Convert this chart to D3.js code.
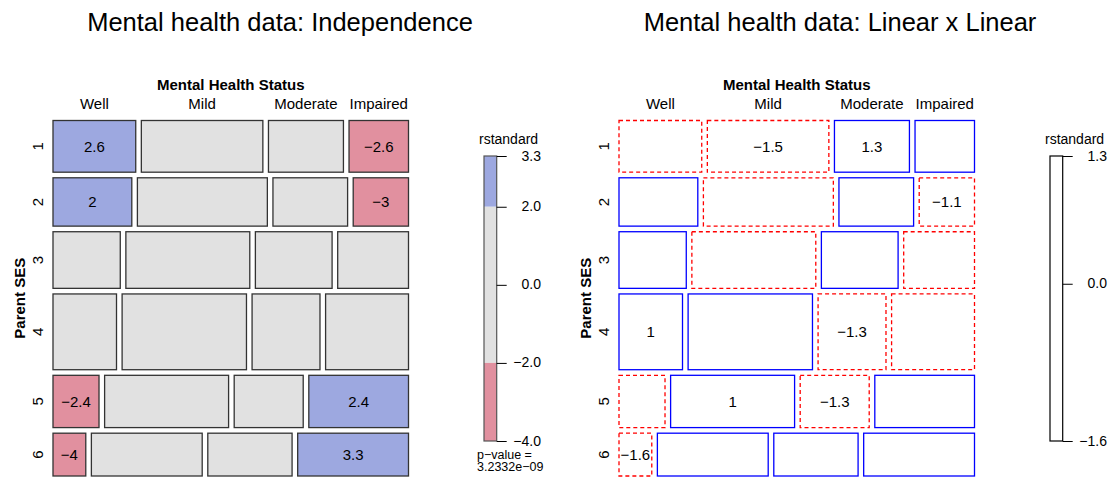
<!DOCTYPE html>
<html><head><meta charset="utf-8">
<script src="https://cdn.jsdelivr.net/npm/d3@7"></script>
<style>
html,body{margin:0;padding:0;background:#fff;}
svg text{font-family:"Liberation Sans",Arial,Helvetica,sans-serif;}
</style></head>
<body>
<svg id="c" width="1120" height="481"></svg>
<script>
// ---- data ----
const ses = ["1","2","3","4","5","6"];
const mental = ["Well","Mild","Moderate","Impaired"];
const counts = [
  [64, 94, 58, 46],
  [57, 94, 54, 40],
  [57,105, 65, 60],
  [72,141, 77, 94],
  [36, 97, 54, 78],
  [21, 71, 54, 71]
];
// standardized residuals, independence model
const residIndep = [
  [ 2.6,-0.1, 0.2,-2.6],
  [ 2.0, 0.7, 0.1,-3.0],
  [ 0.6, 0.1, 0.4,-1.1],
  [ 0.2, 0.2,-0.9, 0.5],
  [-2.4, 0.1,-0.6, 2.4],
  [-4.0,-1.1, 1.1, 3.3]
];
// standardized residuals, linear x linear model
const residLxL = [
  [-0.8,-1.5, 1.3, 0.5],
  [ 0.6,-0.4, 0.5,-1.1],
  [ 0.4,-0.6, 0.8,-0.5],
  [ 1.0, 0.5,-1.3,-0.2],
  [-0.7, 1.0,-1.3, 0.5],
  [-1.6, 0.3, 0.6, 0.4]
];
const pValueText = ["p\u2212value =", "3.2332e\u221209"];

const svg = d3.select("#c");
const fmtCell = v => d3.format(".1~f")(v);
const fmtLeg = d3.format(".1f");

function panel(opts){
  const dx = opts.dx;
  const S = 355.5;
  const X0 = 53 + dx, X1 = X0 + S, Y0 = 120.5, Y1 = Y0 + S, gap = 5.6;
  const g = svg.append("g");
  g.append("text").attr("x", opts.titleX).attr("y", 31).attr("text-anchor","middle")
    .style("font-size","25.5px").text(opts.title);

  const rowTot = counts.map(r => d3.sum(r));
  const N = d3.sum(rowTot);
  const yS = d3.scaleLinear().domain([0, N]).range([0, (Y1 - Y0) - gap*(ses.length-1)]);
  const cumRow = [0]; rowTot.forEach((t,i)=>cumRow.push(cumRow[i]+t));

  const cells = [];
  counts.forEach((row,i)=>{
    const xS = d3.scaleLinear().domain([0, rowTot[i]]).range([0, (X1 - X0) - gap*(mental.length-1)]);
    let cum = 0;
    row.forEach((v,j)=>{
      cells.push({i, j, x: X0 + j*gap + xS(cum), w: xS(v),
        y: Y0 + i*gap + yS(cumRow[i]), h: yS(rowTot[i]), r: opts.resid[i][j]});
      cum += v;
    });
  });

  g.selectAll("rect.cell").data(cells).join("rect").attr("class","cell")
    .attr("x", d=>d.x).attr("y", d=>d.y).attr("width", d=>d.w).attr("height", d=>d.h)
    .attr("fill", d=>opts.fill(d.r)).attr("stroke", d=>opts.stroke(d.r))
    .attr("stroke-width", opts.sw).attr("stroke-dasharray", d=>opts.dash(d.r));

  g.selectAll("text.cl").data(cells.filter(d=>Math.abs(d.r) >= opts.thr)).join("text").attr("class","cl")
    .attr("x", d=>d.x + d.w/2).attr("y", d=>d.y + d.h/2 + 5.3).attr("text-anchor","middle")
    .style("font-size","15px").text(d=>fmtCell(d.r));

  // column labels over first row
  const firstRow = cells.filter(d=>d.i===0);
  g.append("text").attr("x",(X0+X1)/2).attr("y",89.5).attr("text-anchor","middle")
    .style("font-size","15px").style("font-weight","bold").text("Mental Health Status");
  g.selectAll("text.col").data(firstRow).join("text").attr("class","col")
    .attr("x", d=>d.x + d.w/2).attr("y", 108.5).attr("text-anchor","middle")
    .style("font-size","15px").text(d=>mental[d.j]);
  // row labels
  const firstCol = cells.filter(d=>d.j===0);
  g.selectAll("text.row").data(firstCol).join("text").attr("class","row")
    .attr("transform", d=>`translate(${X0-10.5},${d.y + d.h/2}) rotate(-90)`)
    .attr("text-anchor","middle").style("font-size","15px").text(d=>ses[d.i]);
  g.append("text").attr("transform", `translate(${X0-28.5},${(Y0+Y1)/2}) rotate(-90)`)
    .attr("text-anchor","middle").style("font-size","15px").style("font-weight","bold").text("Parent SES");

  // legend
  const all = opts.resid.flat();
  const ext = d3.extent(all);
  const LX = 484 + dx, LW = 12.7, LT = 156, LB = 441;
  const ls = d3.scaleLinear().domain([ext[0], ext[1]]).range([LB, LT]);
  g.append("text").attr("x", LX - 5).attr("y", 144).style("font-size","14px").text("rstandard");
  opts.segments(ext).forEach(s=>{
    g.append("rect").attr("x", LX).attr("y", ls(s[1])).attr("width", LW).attr("height", ls(s[0]) - ls(s[1]))
      .attr("fill", s[2]).attr("stroke","none");
  });
  g.append("rect").attr("x", LX).attr("y", LT).attr("width", LW).attr("height", LB-LT)
    .attr("fill","none").attr("stroke", opts.legStroke).attr("stroke-width",1.2);
  const ticks = opts.ticks(ext);
  const ax = d3.axisRight(ls).tickValues(ticks).tickSize(10).tickPadding(0).tickFormat(()=> "");
  const axg = g.append("g").attr("transform", `translate(${LX+LW},0)`).call(ax);
  axg.select(".domain").remove();
  axg.selectAll("line").attr("stroke","#000").attr("stroke-width",1);
  g.selectAll("text.lt").data(ticks).join("text").attr("class","lt")
    .attr("x", LX + LW + 44.3).attr("y", d=>ls(d) + 4.5).attr("text-anchor","end")
    .style("font-size","14px").text(d=>fmtLeg(d).replace("-","\u2212"));
  if (opts.pval){
    opts.pval.forEach((t,k)=>g.append("text").attr("x", LX - 7).attr("y", 459 + k*12)
      .style("font-size","12.5px").text(t));
  }
}

panel({
  dx: 0, titleX: 280, title: "Mental health data: Independence",
  resid: residIndep, thr: 2, sw: 1.3,
  fill: r => r >= 2 ? "#9DA8E0" : (r <= -2 ? "#E1909F" : "#E1E1E1"),
  stroke: r => "#333", dash: r => null,
  segments: ext => [[2, ext[1], "#9DA8E0"], [-2, 2, "#E1E1E1"], [ext[0], -2, "#E1909F"]],
  legStroke: "#555",
  ticks: ext => [ext[1], 2, 0, -2, ext[0]],
  pval: pValueText
});
panel({
  dx: 566, titleX: 840, title: "Mental health data: Linear x Linear",
  resid: residLxL, thr: 1, sw: 1.3,
  fill: r => "#FFFFFF",
  stroke: r => r >= 0 ? "#0000FF" : "#FF0000",
  dash: r => r >= 0 ? null : "4,3",
  segments: ext => [[ext[0], ext[1], "#FFFFFF"]],
  legStroke: "#000",
  ticks: ext => [ext[1], 0, ext[0]],
  pval: null
});
</script>
</body></html>
